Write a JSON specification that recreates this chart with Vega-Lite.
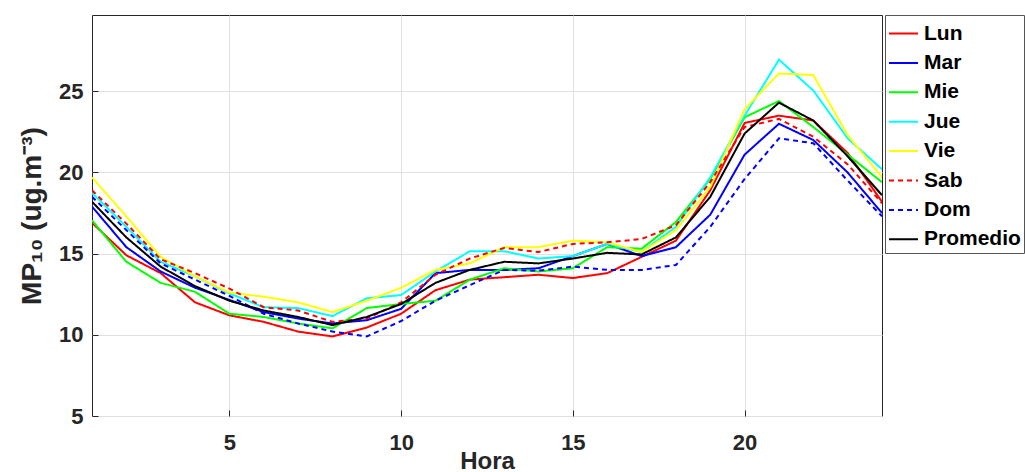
{
  "$schema": "https://vega.github.io/schema/vega-lite/v6.json",
  "autosize": {"type": "none"},
  "padding": {"left": 92, "top": 15, "right": 143, "bottom": 56},
  "width": 790,
  "height": 401,
  "background": "white",
  "config": {
    "view": {"stroke": "#262626", "strokeWidth": 1},
    "font": "Liberation Sans",
    "axis": {
      "gridColor": "#e0e0e0", "gridWidth": 1, "domain": false,
      "tickColor": "#262626", "tickSize": -6,
      "labelFont": "Liberation Sans", "labelFontWeight": "bold", "labelFontSize": 22, "labelColor": "#262626",
      "titleFont": "Liberation Sans", "titleFontWeight": "bold", "titleFontSize": 24, "titleColor": "#262626"
    },
    "legend": {
      "symbolType": "stroke", "symbolSize": 841, "symbolStrokeWidth": 2,
      "labelFont": "Liberation Sans", "labelFontSize": 21, "labelFontWeight": "bold", "labelColor": "#000",
      "rowPadding": 3.4, "padding": 3, "strokeColor": "#555", "fillColor": "white", "labelOffset": 5
    }
  },
  "data": {"values": [
    {"h":1,"s":"Lun","v":16.9},{"h":2,"s":"Lun","v":14.9},{"h":3,"s":"Lun","v":13.8},{"h":4,"s":"Lun","v":12.0},{"h":5,"s":"Lun","v":11.2},{"h":6,"s":"Lun","v":10.8},{"h":7,"s":"Lun","v":10.2},{"h":8,"s":"Lun","v":9.9},{"h":9,"s":"Lun","v":10.45},{"h":10,"s":"Lun","v":11.3},{"h":11,"s":"Lun","v":12.75},{"h":12,"s":"Lun","v":13.4},{"h":13,"s":"Lun","v":13.55},{"h":14,"s":"Lun","v":13.7},{"h":15,"s":"Lun","v":13.5},{"h":16,"s":"Lun","v":13.8},{"h":17,"s":"Lun","v":14.8},{"h":18,"s":"Lun","v":15.8},{"h":19,"s":"Lun","v":18.9},{"h":20,"s":"Lun","v":23.05},{"h":21,"s":"Lun","v":23.5},{"h":22,"s":"Lun","v":23.2},{"h":23,"s":"Lun","v":21.2},{"h":24,"s":"Lun","v":18.2},
    {"h":1,"s":"Mar","v":17.9},{"h":2,"s":"Mar","v":15.4},{"h":3,"s":"Mar","v":13.9},{"h":4,"s":"Mar","v":12.9},{"h":5,"s":"Mar","v":12.15},{"h":6,"s":"Mar","v":11.4},{"h":7,"s":"Mar","v":11.0},{"h":8,"s":"Mar","v":10.7},{"h":9,"s":"Mar","v":10.9},{"h":10,"s":"Mar","v":11.6},{"h":11,"s":"Mar","v":13.8},{"h":12,"s":"Mar","v":14.0},{"h":13,"s":"Mar","v":14.0},{"h":14,"s":"Mar","v":14.1},{"h":15,"s":"Mar","v":14.85},{"h":16,"s":"Mar","v":15.6},{"h":17,"s":"Mar","v":14.85},{"h":18,"s":"Mar","v":15.4},{"h":19,"s":"Mar","v":17.4},{"h":20,"s":"Mar","v":21.1},{"h":21,"s":"Mar","v":23.0},{"h":22,"s":"Mar","v":22.0},{"h":23,"s":"Mar","v":20.0},{"h":24,"s":"Mar","v":17.5},
    {"h":1,"s":"Mie","v":17.05},{"h":2,"s":"Mie","v":14.5},{"h":3,"s":"Mie","v":13.2},{"h":4,"s":"Mie","v":12.65},{"h":5,"s":"Mie","v":11.3},{"h":6,"s":"Mie","v":11.1},{"h":7,"s":"Mie","v":10.7},{"h":8,"s":"Mie","v":10.4},{"h":9,"s":"Mie","v":11.65},{"h":10,"s":"Mie","v":11.9},{"h":11,"s":"Mie","v":12.1},{"h":12,"s":"Mie","v":13.4},{"h":13,"s":"Mie","v":14.1},{"h":14,"s":"Mie","v":13.9},{"h":15,"s":"Mie","v":14.1},{"h":16,"s":"Mie","v":15.4},{"h":17,"s":"Mie","v":15.3},{"h":18,"s":"Mie","v":16.95},{"h":19,"s":"Mie","v":19.6},{"h":20,"s":"Mie","v":23.4},{"h":21,"s":"Mie","v":24.4},{"h":22,"s":"Mie","v":22.8},{"h":23,"s":"Mie","v":21.1},{"h":24,"s":"Mie","v":19.4},
    {"h":1,"s":"Jue","v":18.75},{"h":2,"s":"Jue","v":16.65},{"h":3,"s":"Jue","v":14.5},{"h":4,"s":"Jue","v":13.6},{"h":5,"s":"Jue","v":12.55},{"h":6,"s":"Jue","v":11.7},{"h":7,"s":"Jue","v":11.65},{"h":8,"s":"Jue","v":11.15},{"h":9,"s":"Jue","v":12.25},{"h":10,"s":"Jue","v":12.45},{"h":11,"s":"Jue","v":13.9},{"h":12,"s":"Jue","v":15.15},{"h":13,"s":"Jue","v":15.15},{"h":14,"s":"Jue","v":14.7},{"h":15,"s":"Jue","v":14.85},{"h":16,"s":"Jue","v":15.6},{"h":17,"s":"Jue","v":15.1},{"h":18,"s":"Jue","v":16.65},{"h":19,"s":"Jue","v":19.7},{"h":20,"s":"Jue","v":23.5},{"h":21,"s":"Jue","v":26.95},{"h":22,"s":"Jue","v":25.05},{"h":23,"s":"Jue","v":22.1},{"h":24,"s":"Jue","v":20.2},
    {"h":1,"s":"Vie","v":19.7},{"h":2,"s":"Vie","v":17.3},{"h":3,"s":"Vie","v":14.8},{"h":4,"s":"Vie","v":13.6},{"h":5,"s":"Vie","v":12.6},{"h":6,"s":"Vie","v":12.35},{"h":7,"s":"Vie","v":12.0},{"h":8,"s":"Vie","v":11.4},{"h":9,"s":"Vie","v":12.1},{"h":10,"s":"Vie","v":12.9},{"h":11,"s":"Vie","v":14.0},{"h":12,"s":"Vie","v":14.4},{"h":13,"s":"Vie","v":15.4},{"h":14,"s":"Vie","v":15.4},{"h":15,"s":"Vie","v":15.8},{"h":16,"s":"Vie","v":15.7},{"h":17,"s":"Vie","v":15.1},{"h":18,"s":"Vie","v":16.45},{"h":19,"s":"Vie","v":19.1},{"h":20,"s":"Vie","v":23.9},{"h":21,"s":"Vie","v":26.1},{"h":22,"s":"Vie","v":26.0},{"h":23,"s":"Vie","v":22.3},{"h":24,"s":"Vie","v":19.7},
    {"h":1,"s":"Sab","v":18.9},{"h":2,"s":"Sab","v":16.85},{"h":3,"s":"Sab","v":14.65},{"h":4,"s":"Sab","v":13.8},{"h":5,"s":"Sab","v":12.85},{"h":6,"s":"Sab","v":11.7},{"h":7,"s":"Sab","v":11.5},{"h":8,"s":"Sab","v":10.8},{"h":9,"s":"Sab","v":11.0},{"h":10,"s":"Sab","v":12.0},{"h":11,"s":"Sab","v":13.7},{"h":12,"s":"Sab","v":14.7},{"h":13,"s":"Sab","v":15.35},{"h":14,"s":"Sab","v":15.1},{"h":15,"s":"Sab","v":15.6},{"h":16,"s":"Sab","v":15.7},{"h":17,"s":"Sab","v":15.9},{"h":18,"s":"Sab","v":16.75},{"h":19,"s":"Sab","v":19.4},{"h":20,"s":"Sab","v":22.8},{"h":21,"s":"Sab","v":23.3},{"h":22,"s":"Sab","v":22.2},{"h":23,"s":"Sab","v":20.5},{"h":24,"s":"Sab","v":18.1},
    {"h":1,"s":"Dom","v":18.5},{"h":2,"s":"Dom","v":16.45},{"h":3,"s":"Dom","v":14.4},{"h":4,"s":"Dom","v":13.4},{"h":5,"s":"Dom","v":12.4},{"h":6,"s":"Dom","v":11.3},{"h":7,"s":"Dom","v":10.7},{"h":8,"s":"Dom","v":10.2},{"h":9,"s":"Dom","v":9.9},{"h":10,"s":"Dom","v":10.85},{"h":11,"s":"Dom","v":12.1},{"h":12,"s":"Dom","v":13.06},{"h":13,"s":"Dom","v":14.0},{"h":14,"s":"Dom","v":13.95},{"h":15,"s":"Dom","v":14.2},{"h":16,"s":"Dom","v":14.0},{"h":17,"s":"Dom","v":14.0},{"h":18,"s":"Dom","v":14.3},{"h":19,"s":"Dom","v":16.65},{"h":20,"s":"Dom","v":19.6},{"h":21,"s":"Dom","v":22.1},{"h":22,"s":"Dom","v":21.8},{"h":23,"s":"Dom","v":19.5},{"h":24,"s":"Dom","v":17.3},
    {"h":1,"s":"Promedio","v":18.2},{"h":2,"s":"Promedio","v":16.0},{"h":3,"s":"Promedio","v":14.2},{"h":4,"s":"Promedio","v":13.0},{"h":5,"s":"Promedio","v":12.1},{"h":6,"s":"Promedio","v":11.5},{"h":7,"s":"Promedio","v":11.1},{"h":8,"s":"Promedio","v":10.6},{"h":9,"s":"Promedio","v":11.1},{"h":10,"s":"Promedio","v":11.9},{"h":11,"s":"Promedio","v":13.2},{"h":12,"s":"Promedio","v":14.0},{"h":13,"s":"Promedio","v":14.5},{"h":14,"s":"Promedio","v":14.4},{"h":15,"s":"Promedio","v":14.7},{"h":16,"s":"Promedio","v":15.05},{"h":17,"s":"Promedio","v":14.95},{"h":18,"s":"Promedio","v":16.0},{"h":19,"s":"Promedio","v":18.5},{"h":20,"s":"Promedio","v":22.4},{"h":21,"s":"Promedio","v":24.3},{"h":22,"s":"Promedio","v":23.2},{"h":23,"s":"Promedio","v":21.0},{"h":24,"s":"Promedio","v":18.6}
  ]},
  "mark": {"type": "line", "clip": true},
  "encoding": {
    "x": {"field": "h", "type": "quantitative", "title": "Hora",
      "scale": {"domain": [1, 24], "nice": false, "zero": false},
      "axis": {"values": [5, 10, 15, 20], "labelPadding": 22, "titlePadding": -4}},
    "y": {"field": "v", "type": "quantitative", "title": "MP₁₀ (ug.m⁻³)",
      "scale": {"domain": [5, 29.7], "nice": false, "zero": false},
      "axis": {"values": [5, 10, 15, 20, 25], "labelPadding": 15, "titlePadding": 12, "titleFontSize": 28}},
    "color": {"field": "s", "type": "nominal", "title": null,
      "scale": {"domain": ["Lun","Mar","Mie","Jue","Vie","Sab","Dom","Promedio"],
                "range": ["#ff0000","#0000ff","#00ff00","#00ffff","#ffff00","#ff0000","#0000ff","#000000"]},
      "legend": {"orient": "none", "legendX": 793, "legendY": 0}},
    "strokeDash": {"field": "s", "type": "nominal", "title": null,
      "scale": {"domain": ["Lun","Mar","Mie","Jue","Vie","Sab","Dom","Promedio"],
                "range": [[1,0],[1,0],[1,0],[1,0],[1,0],[5,4],[5,4],[1,0]]}},
    "strokeWidth": {"field": "s", "type": "nominal", "title": null,
      "scale": {"domain": ["Lun","Mar","Mie","Jue","Vie","Sab","Dom","Promedio"],
                "range": [2,2,2,2,2,2,2,3.2]}},
    "order": {"field": "s", "type": "nominal"}
  }
}
